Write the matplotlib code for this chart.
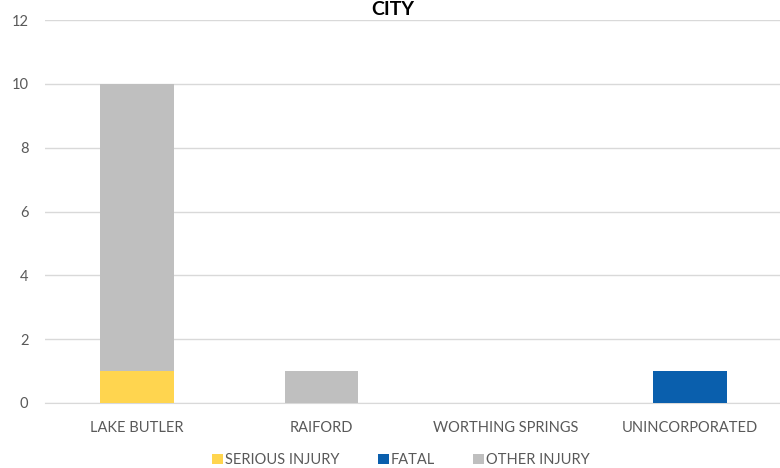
import numpy as np
import matplotlib
matplotlib.use("Agg")
import matplotlib.pyplot as plt

plt.rcParams['font.family'] = ['Lato', 'DejaVu Sans']

kota = ["LAKE BUTLER", "RAIFORD", "WORTHING SPRINGS", "UNINCORPORATED"]
serious = [1, 0, 0, 0]
fatal = [0, 0, 0, 1]
other = [9, 1, 0, 0]
yticks = [0, 2, 4, 6, 8, 10, 12]

fig = plt.figure(figsize=(7.8, 4.68), dpi=100)
ax = fig.add_axes([45/780, 1 - 403/468, 737/780, 383/468])

x = np.arange(len(kota))
lebar = 0.4
bawah = np.zeros(len(kota))
for nilai, warna, nama in [(serious, "#FFD54F", "SERIOUS INJURY"),
                           (fatal, "#0A5FAD", "FATAL"),
                           (other, "#BFBFBF", "OTHER INJURY")]:
    ax.bar(x, nilai, lebar, bottom=bawah, color=warna, label=nama, zorder=3)
    bawah = bawah + np.array(nilai)

ax.set_xlim(-0.5, len(kota) - 0.5)
ax.set_ylim(0, 12)
ax.set_yticks(yticks)
ax.set_xticks(x)
ax.set_xticklabels(kota)
ax.tick_params(axis='both', length=0, colors="#595959", labelsize=10.5)
ax.tick_params(axis='x', pad=13)
ax.tick_params(axis='y', pad=12)
ax.grid(axis='y', color="#D9D9D9", linewidth=1, zorder=0)
for s in ["top", "right", "left"]:
    ax.spines[s].set_visible(False)
ax.spines["bottom"].set_color("#D9D9D9")

# judul terpotong di referensi, di sini digeser sedikit agar tetap terbaca
fig.text(393/780, 1 - 1/468, "CITY", ha='center', va='top',
         fontsize=14, fontweight='bold', color="black")

leg = fig.legend(loc='center', bbox_to_anchor=(401/780, 1 - 460/468), ncol=3,
                 frameon=False, fontsize=10.5, handlelength=0.75, handleheight=0.75,
                 columnspacing=2.6, handletextpad=0.15)
for t in leg.get_texts():
    t.set_color("#595959")

fig.savefig("out.png", dpi=100)
